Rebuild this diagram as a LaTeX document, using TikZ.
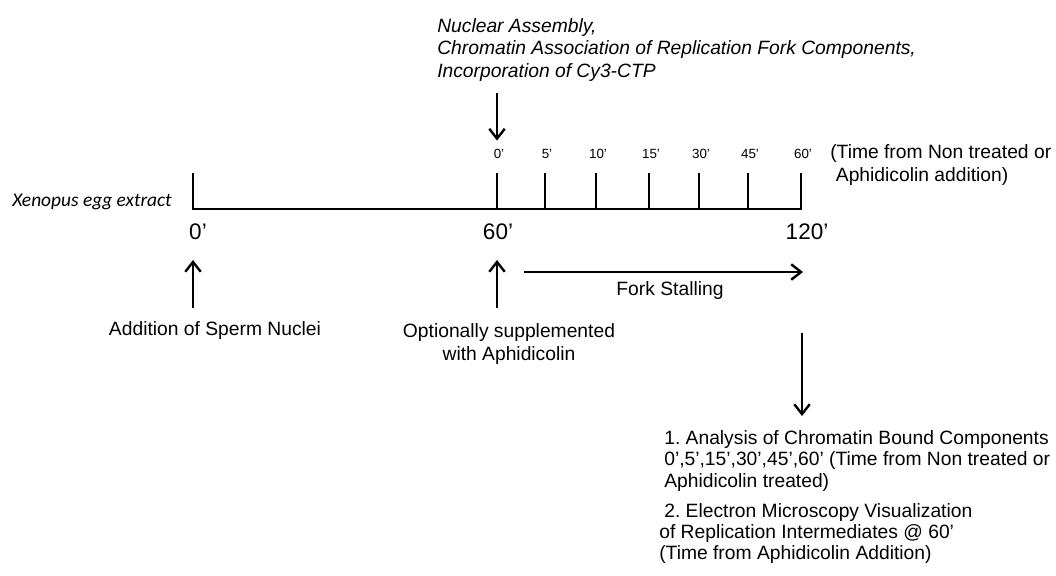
\documentclass[tikz,border=0pt]{standalone}
\usepackage{fontspec}
\setmainfont{Liberation Sans}
\newfontfamily\calfont{Carlito}
\usepackage{tikz}
\usetikzlibrary{arrows.meta, positioning}
\frenchspacing

\begin{document}
\begin{tikzpicture}[
  x=0.025cm, y=-0.025cm,
  axis/.style={line width=2.1pt, line join=miter},
  tick/.style={line width=2.1pt},
  arr/.style={-{Straight Barb[length=7pt, width=11pt, line width=1.7pt]}, line width=2.1pt},
  txt/.style={inner sep=0pt, font=\fontsize{13.7}{15.3}\selectfont},
  minor/.style={inner sep=0pt, font=\fontsize{9.5}{11}\selectfont},
  major/.style={inner sep=0pt, font=\fontsize{16}{18}\selectfont},
]
\useasboundingbox (0,0) rectangle (1056,575);

%% ---- Timeline ----
\coordinate (t0)   at (193, 209);
\coordinate (t60)  at (497, 209);
\coordinate (t120) at (801, 209);
\draw[axis] (193, 173) -- (t0) -- (t120) -- (801, 173);
\draw[tick] (t60) -- (497, 173);
\draw[tick] (545, 209) -- (545, 173);
\draw[tick] (596, 209) -- (596, 173);
\draw[tick] (649, 209) -- (649, 173);
\draw[tick] (699, 209) -- (699, 173);
\draw[tick] (748, 209) -- (748, 173);

\node[inner sep=0pt, anchor=east, font=\calfont\itshape\fontsize{13.8}{15}\selectfont]
  (xenopus) at (172, 202) {Xenopus egg extract};

%% ---- Minutes after addition ----
\node[minor] (m0)  at (499, 154) {0’};
\node[minor] (m5)  at (547, 154) {5’};
\node[minor] (m10) at (598, 154) {10’};
\node[minor] (m15) at (651, 154) {15’};
\node[minor] (m30) at (701, 154) {30’};
\node[minor] (m45) at (750, 154) {45’};
\node[minor] (m60) at (803, 154) {60’};
\node[txt, anchor=west, align=left, font=\fontsize{13.7}{17}\selectfont] (note) at (830, 165)
  {(Time from Non treated or\\ \hspace{4pt}Aphidicolin addition)};

%% ---- Major time points ----
\node[major] (l0)   at (198, 232) {0’};
\node[major] (l60)  at (498, 232) {60’};
\node[major] (l120) at (807, 232) {120’};

%% ---- Nuclear assembly (top) ----
\node[txt, anchor=north west, align=left, font=\itshape\fontsize{13.7}{16}\selectfont]
  (nuclear) at (437, 18)
  {Nuclear Assembly,\\Chromatin Association of Replication Fork Components,\\Incorporation of Cy3-CTP};
\coordinate (dn0) at (497, 93);
\draw[arr, shorten >=6pt] (dn0) -- (dn0 |- m0.north);

%% ---- Additions (below) ----
\node[txt] (sperm) at (215, 331) {Addition of Sperm Nuclei};
\node[txt, anchor=north, align=center, font=\fontsize{13.7}{16.4}\selectfont]
  (aphid) at (509, 323) {Optionally supplemented\\with Aphidicolin};
\coordinate (up0)  at (193, 308);
\coordinate (up60) at (497, 308);
\draw[arr] (up0) -- (193, 260);
\draw[arr] (up60) -- (497, 260);

%% ---- Fork stalling ----
\coordinate (fs) at (524, 272);
\draw[arr] (fs) -- (803, 272);
\node[txt] (fork) at (670, 291) {Fork Stalling};

%% ---- Analysis ----
\coordinate (an) at (802, 333);
\draw[arr] (an) -- (802, 416);
\node[txt, anchor=north west, align=left]
  (analysis) at (664, 430)
  {1. Analysis of Chromatin Bound Components\\0’,5’,15’,30’,45’,60’ (Time from Non treated or\\Aphidicolin treated)};
\node[txt, anchor=north west] (em1) at (664, 503) {2. Electron Microscopy Visualization};
\node[txt, anchor=north west, align=left]
  (em2) at (659, 524)
  {of Replication Intermediates @ 60’\\(Time from Aphidicolin Addition)};

\end{tikzpicture}
\end{document}
